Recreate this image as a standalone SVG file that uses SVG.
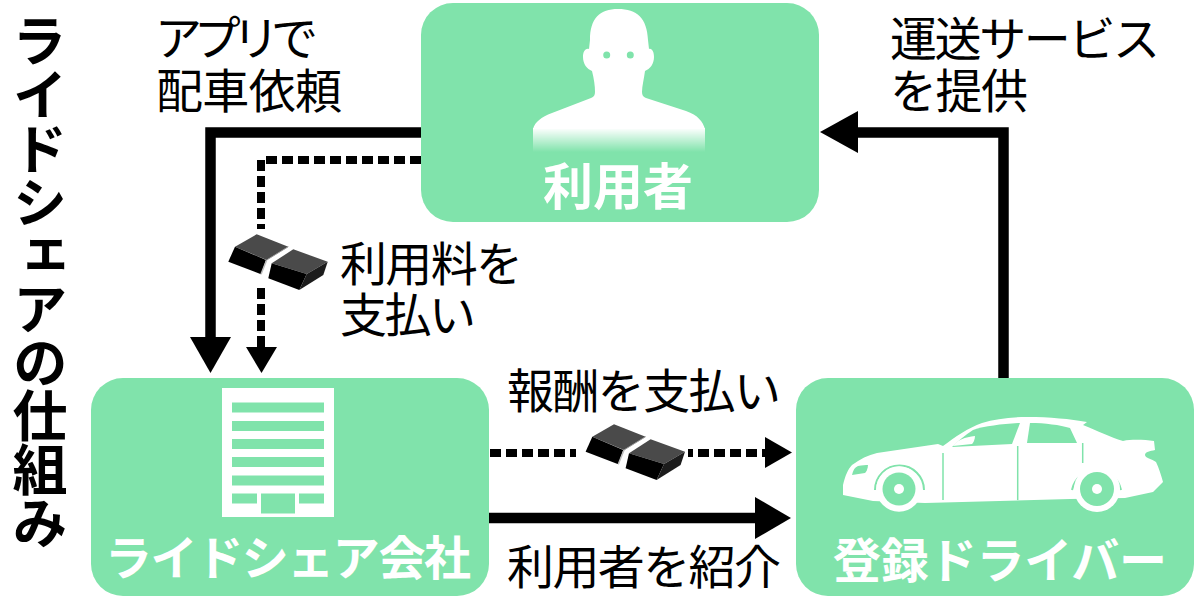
<svg xmlns="http://www.w3.org/2000/svg" width="1200" height="599" viewBox="0 0 1200 599">
<style>
text{font-family:"Noto Sans CJK JP","Noto Sans",sans-serif;fill:#000}
.lab{font-size:47px;font-weight:400}
.nl{fill:#fff;font-weight:700}
.box{fill:#80e3ab}
.ico{fill:#fff}
.cut{fill:#80e3ab}
.solid{fill:none;stroke:#000;stroke-width:10.500}
.dash{fill:none;stroke:#000;stroke-width:8;stroke-dasharray:11 5}
</style>
<defs>
<linearGradient id="fade" x1="0" y1="0" x2="0" y2="1"><stop offset="0" stop-color="#fff"/><stop offset="1" stop-color="#fff" stop-opacity="0"/></linearGradient>
<g id="money">
<path d="M235 246.700L256.700 234.300L288.300 246.700L266.700 260Z" fill="#4a4a4a"/>
<path d="M235 246.700L266 260L261 274.300L228.300 261.700Z" fill="#000"/>
<path d="M271.700 263.300L293.300 249.300L327.700 261.700L306.700 274Z" fill="#4a4a4a"/>
<path d="M271.700 263.300L306.700 274L299.300 290L268.300 278.300Z" fill="#000"/>
<path d="M306.700 274L327.700 261.700L323.300 275L299.300 290Z" fill="#1c1c1c"/>
<path d="M269 260.500L274 261" fill="none"/>
<path d="M266.700 260L261 274.300" fill="none" stroke="#bdbdbd" stroke-width="1.500"/>
<path d="M288.300 246.700L266.700 260" fill="none" stroke="#999" stroke-width="1"/>
</g>
</defs>
<rect width="1200" height="599" fill="#fff"/>
<text x="40" y="13" font-size="55" font-weight="700" style="writing-mode:vertical-rl;text-orientation:upright" textLength="537" dominant-baseline="central">ライドシェアの仕組み</text>
<g id="connectors">
<path class="solid" d="M421 132.500H210.500V340"/>
<path d="M190 337H231L210.500 373Z"/>
<path class="dash" d="M421 160H261V347"/>
<path d="M246 347H277L261.500 373Z"/>
<path class="solid" d="M1003.500 378V132.500H855"/>
<path d="M858 111V153L820 132Z"/>
<path class="dash" d="M490 453H765"/>
<path d="M765 437V468L792 452.500Z"/>
<path class="solid" d="M488 518H760"/>
<path d="M755 497V539L791 518Z"/>
</g>
<rect x="250" y="229" width="24" height="54" fill="#fff"/>
<use href="#money"/>
<rect x="576" y="440" width="112" height="26" fill="#fff"/>
<use href="#money" x="357.300" y="190"/>
<g id="node-user">
<rect class="box" x="421" y="3" width="398" height="219" rx="32"/>
<path class="ico" d="M590 40C590 18 600 9 618 9C637 9 647 18 648 40L649 49C652 48 654 52 654 57C654 64 650 69 645 71C644 79 642 86 642 92C642 95 643 97 646 98L686 111C698 115 703 122 705 129H533C535 122 541 117 552 113L591 98C594 97 595 95 595 92C595 86 594 79 592 71C587 69 583 64 583 57C583 52 585 48 589 49Z"/>
<path d="M533 128H705L705 152H533Z" fill="url(#fade)"/>
<circle class="cut" cx="606.700" cy="55" r="3.500"/><circle class="cut" cx="630.300" cy="55" r="3.500"/>
<text class="nl" x="543" y="205" font-size="50" textLength="150" lengthAdjust="spacingAndGlyphs">利用者</text>
</g>
<g id="node-company">
<rect class="box" x="91" y="378" width="398" height="218" rx="32"/>
<rect class="ico" x="222" y="388" width="112" height="129"/>
<g class="cut">
<rect x="232" y="402.500" width="92" height="10"/><rect x="232" y="421" width="92" height="10"/><rect x="232" y="439" width="92" height="10"/><rect x="232" y="457" width="92" height="10"/><rect x="232" y="475.500" width="92" height="10"/>
<rect x="232" y="493.500" width="25" height="10"/><rect x="299" y="493.500" width="25" height="10"/><rect x="261" y="493.500" width="34" height="20"/>
</g>
<text class="nl" x="105" y="575" font-size="47" textLength="366">ライドシェア会社</text>
</g>
<g id="node-driver">
<rect class="box" x="796" y="378" width="398" height="218" rx="32"/>
<path class="ico" d="M843 495V485C845 476 848 469 852 465C860 459 868 455 877 453L938 444L943 446C955 437 968 428 982 423C995 419 1010 417 1027 417C1050 417 1070 419 1087 422L1083 425C1098 431 1110 437 1123 441C1133 439 1145 440 1154 441L1155 450C1150 451 1145 452 1145 455C1145 458 1152 459 1156 462C1159 468 1161 475 1163 482L1153 492L1125 498L1070 499L925 503L873 501Z"/>
<path d="M875 490A24.500 24.500 0 0 1 924 490M1072 490A25 25 0 0 1 1121 490" fill="none" stroke="#80e3ab" stroke-width="2"/>
<circle class="ico" cx="899" cy="489" r="22.700"/><circle class="ico" cx="1097" cy="489" r="23"/>
<circle class="cut" cx="899" cy="489" r="16.500"/><circle class="cut" cx="1097" cy="489" r="17"/>
<circle class="ico" cx="899" cy="489" r="5"/><circle class="ico" cx="1097" cy="489" r="5"/>
<path class="cut" d="M1030 423C1045 423 1060 425 1070 428L1077 443L1027 443Z"/>
<path class="cut" d="M1020 423L1012 444L952 447C958 441 965 435 973 430C985 426 1003 424 1020 423Z"/>
<path class="ico" d="M953 446C957 440 965 437 975 436C975 440 973 443 972 444Z"/>
<path class="cut" d="M852 475C853 470 855 467 858 466C862 465 866 465 868 465C868 469 866 472 865 473Z"/>
<path d="M943 453V500M1017.700 446V500M1082.700 443V463" fill="none" stroke="#80e3ab" stroke-width="1.500"/>
<text class="nl" x="833" y="578" font-size="48" textLength="334">登録ドライバー</text>
</g>
<g id="labels">
<text class="lab" x="155" y="55" textLength="163">アプリで</text>
<text class="lab" x="156" y="108" textLength="186">配車依頼</text>
<text class="lab" x="890" y="56" textLength="270">運送サービス</text>
<text class="lab" x="890" y="108" textLength="138">を提供</text>
<text class="lab" x="340" y="281" textLength="183">利用料を</text>
<text class="lab" x="340" y="332" textLength="136">支払い</text>
<text class="lab" x="507" y="408" textLength="274">報酬を支払い</text>
<text class="lab" x="507" y="584" textLength="274">利用者を紹介</text>
</g>
</svg>
